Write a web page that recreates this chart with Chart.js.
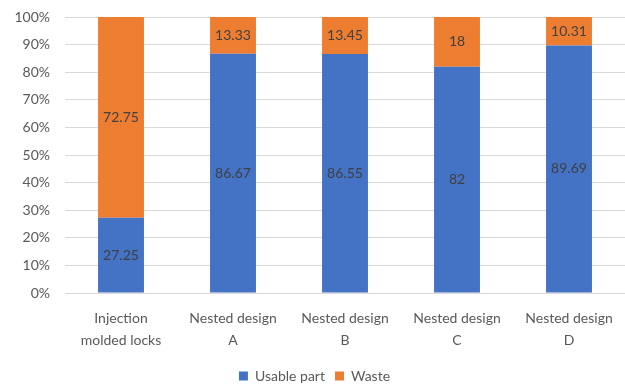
<!DOCTYPE html>
<html>
<head>
<meta charset="utf-8">
<script src="https://cdn.jsdelivr.net/npm/chart.js@4"></script>
<style>
  html, body { margin: 0; padding: 0; background: #fff; }
  #wrap { width: 625px; height: 384px; }
</style>
</head>
<body>
<div id="wrap"><canvas id="chart"></canvas></div>
<script>
const categories = [["Injection", "molded locks"], ["Nested design", "A"], ["Nested design", "B"], ["Nested design", "C"], ["Nested design", "D"]];
const usable = [27.25, 86.67, 86.55, 82, 89.69];
const waste = [72.75, 13.33, 13.45, 18, 10.31];
const yTicks = [0, 10, 20, 30, 40, 50, 60, 70, 80, 90, 100];

const font = 'Lato, "Open Sans", sans-serif';

// draws the value in the middle of each bar segment
const barLabels = {
    id: 'barLabels',
    afterDatasetsDraw(chart) {
        let ctx = chart.ctx;
        ctx.save();
        ctx.font = '14px ' + font;
        ctx.fillStyle = '#404040';
        ctx.textAlign = 'center';
        ctx.textBaseline = 'middle';
        chart.data.datasets.forEach((ds, i) => {
            chart.getDatasetMeta(i).data.forEach((bar, j) => {
                let mid = (bar.y + bar.base) / 2;
                ctx.fillText(String(ds.data[j]), bar.x, mid);
            });
        });
        ctx.restore();
    }
};

new Chart(document.getElementById("chart").getContext("2d"), {
    type: 'bar',
    data: {
        labels: categories,
        datasets: [
            { label: 'Usable part', data: usable, backgroundColor: '#4472C4', categoryPercentage: 1, barPercentage: 0.41 },
            { label: 'Waste', data: waste, backgroundColor: '#ED7D31', categoryPercentage: 1, barPercentage: 0.41 }
        ]
    },
    options: {
        responsive: true,
        maintainAspectRatio: false,
        animation: false,
        layout: { padding: { top: 17, right: -4, left: 0, bottom: -9 } },
        plugins: {
            tooltip: { enabled: false },
            legend: {
                position: 'bottom',
                labels: {
                    boxWidth: 9, boxHeight: 9, padding: 10,
                    color: '#595959',
                    font: { family: font, size: 14 }
                }
            }
        },
        scales: {
            x: {
                stacked: true,
                afterFit(scale) { scale.height = 66; scale.paddingLeft = 0; scale.paddingRight = 0; },
                grid: { display: false },
                border: { color: '#d9d9d9' },
                ticks: {
                    padding: 6,
                    color: '#595959', maxRotation: 0, autoSkip: false,
                    font: { family: font, size: 14, lineHeight: '22px' }
                }
            },
            y: {
                stacked: true,
                min: 0, max: 100,
                afterFit(scale) { scale.width = 65; scale.paddingTop = 0; },
                afterBuildTicks(scale) { scale.ticks = yTicks.map(v => ({ value: v })); },
                grid: { color: '#d9d9d9', drawTicks: false },
                border: { display: false },
                ticks: {
                    padding: 15,
                    color: '#595959',
                    font: { family: font, size: 14 },
                    callback: v => v + '%'
                }
            }
        }
    },
    plugins: [barLabels]
});
</script>
</body>
</html>
